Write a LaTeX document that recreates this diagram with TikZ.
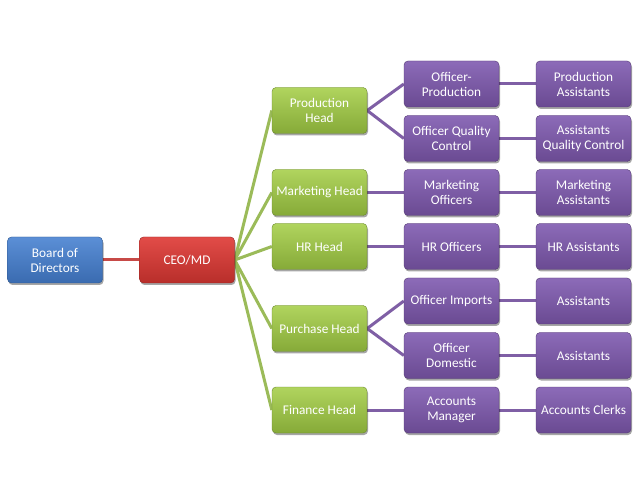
\documentclass[tikz,border=0pt]{standalone}
\usepackage{fontspec}
\setmainfont{Carlito}
\usetikzlibrary{shadows,backgrounds}
\definecolor{bluetop}{HTML}{5B8FD6}
\definecolor{bluebot}{HTML}{3A6BB0}
\definecolor{redtop}{HTML}{E24C48}
\definecolor{redbot}{HTML}{B82E2A}
\definecolor{greentop}{HTML}{B0D45E}
\definecolor{greenbot}{HTML}{86AA38}
\definecolor{purptop}{HTML}{8C6BB8}
\definecolor{purpbot}{HTML}{6A4A92}
\definecolor{greenline}{HTML}{9BBB59}
\definecolor{purpline}{HTML}{7F5FA5}
\definecolor{redline}{HTML}{C74A47}
\tikzset{
  box/.style={rounded corners=4pt, minimum width=95pt, minimum height=46pt,
    inner sep=1pt, align=center, text=white,
    font=\fontsize{13.3}{15}\selectfont,
    drop shadow={shadow xshift=1pt, shadow yshift=-2pt, opacity=0.35, fill=black}},
  bluebox/.style={box, top color=bluetop, bottom color=bluebot, draw=bluebot!80!black, line width=0.4pt},
  redbox/.style={box, top color=redtop, bottom color=redbot, draw=redbot!80!black, line width=0.4pt},
  greenbox/.style={box, top color=greentop, bottom color=greenbot, draw=greenbot!80!black, line width=0.4pt},
  purpbox/.style={box, top color=purptop, bottom color=purpbot, draw=purpbot!80!black, line width=0.4pt},
  gline/.style={draw=greenline, line width=3pt},
  pline/.style={draw=purpline, line width=3pt},
  rline/.style={draw=redline, line width=3pt},
}
\begin{document}
\begin{tikzpicture}[x=1pt,y=-1pt]
\useasboundingbox (0,0) rectangle (640,494);
% level 0/1
\node[bluebox] (board) at (55,260) {Board of\\Directors};
\node[redbox] (ceo) at (187,260) {CEO/MD};
% heads
\node[greenbox] (prod) at (319.5,110.5) {Production\\Head};
\node[greenbox] (mkt) at (319.5,192.5) {Marketing Head};
\node[greenbox] (hr) at (319.5,246.5) {HR Head};
\node[greenbox] (pur) at (319.5,328.5) {Purchase Head};
\node[greenbox] (fin) at (319.5,410) {Finance Head};
% officers
\node[purpbox] (op) at (451.5,84) {Officer-\\Production};
\node[purpbox] (oqc) at (451.5,138.5) {Officer Quality\\Control};
\node[purpbox] (mo) at (451.5,192.5) {Marketing\\Officers};
\node[purpbox] (hro) at (451.5,246.5) {HR Officers};
\node[purpbox] (oi) at (451.5,301) {Officer Imports};
\node[purpbox] (od) at (451.5,355.5) {Officer\\Domestic};
\node[purpbox] (am) at (451.5,410) {Accounts\\Manager};
% assistants
\node[purpbox] (pa) at (583.5,84) {Production\\Assistants};
\node[purpbox] (aqc) at (583.5,138.5) {Assistants\\Quality Control};
\node[purpbox] (ma) at (583.5,192.5) {Marketing\\Assistants};
\node[purpbox] (hra) at (583.5,246.5) {HR Assistants};
\node[purpbox] (ai) at (583.5,301) {Assistants};
\node[purpbox] (ad) at (583.5,355.5) {Assistants};
\node[purpbox] (ac) at (583.5,410) {Accounts Clerks};
% connectors
\begin{scope}[on background layer]
\fill[white] (0,0) rectangle (640,494);
\path[rline] (board.east) -- (ceo.west);
\foreach \h in {prod,mkt,hr,pur,fin} \path[gline] (ceo.east) -- (\h.west);
\path[pline] (prod.east) -- (op.west);
\path[pline] (prod.east) -- (oqc.west);
\path[pline] (mkt.east) -- (mo.west);
\path[pline] (hr.east) -- (hro.west);
\path[pline] (pur.east) -- (oi.west);
\path[pline] (pur.east) -- (od.west);
\path[pline] (fin.east) -- (am.west);
\path[pline] (op.east) -- (pa.west);
\path[pline] (oqc.east) -- (aqc.west);
\path[pline] (mo.east) -- (ma.west);
\path[pline] (hro.east) -- (hra.west);
\path[pline] (oi.east) -- (ai.west);
\path[pline] (od.east) -- (ad.west);
\path[pline] (am.east) -- (ac.west);
\end{scope}
\end{tikzpicture}
\end{document}
